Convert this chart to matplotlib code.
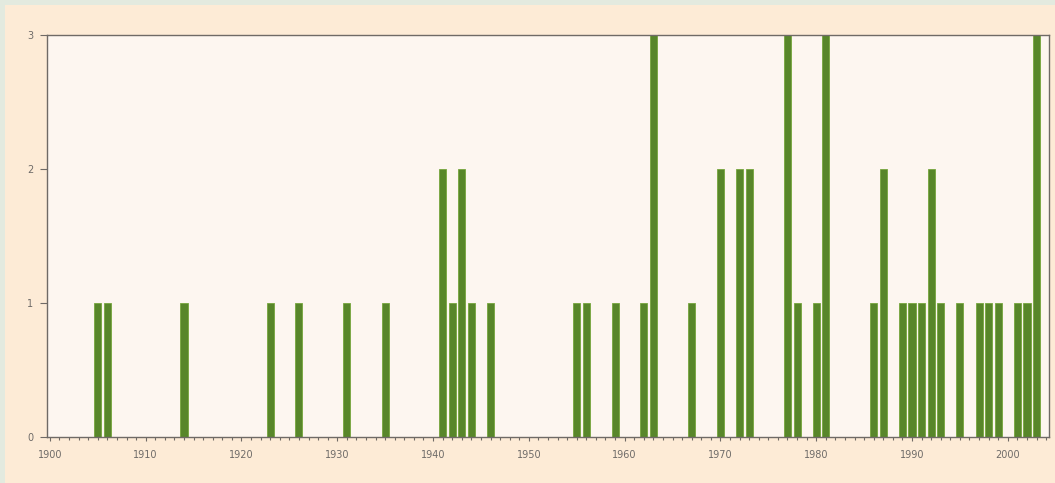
import numpy as np
import matplotlib
matplotlib.use('Agg')
import matplotlib.pyplot as plt
from matplotlib.ticker import MultipleLocator

# events per year
years = [1905, 1906, 1914, 1923, 1926, 1931, 1935, 1941, 1942, 1943, 1944, 1946,
         1955, 1956, 1959, 1962, 1963, 1967, 1970, 1972, 1973, 1977, 1978, 1980,
         1981, 1986, 1987, 1989, 1990, 1991, 1992, 1993, 1995, 1997, 1998, 1999,
         2001, 2002, 2003]
counts = [1, 1, 1, 1, 1, 1, 1, 2, 1, 2, 1, 1,
          1, 1, 1, 1, 3, 1, 2, 2, 2, 3, 1, 1,
          3, 1, 2, 1, 1, 1, 2, 1, 1, 1, 1, 1,
          1, 1, 3]
xticks = [1900, 1910, 1920, 1930, 1940, 1950, 1960, 1970, 1980, 1990, 2000]
yticks = [0, 1, 2, 3]

W, H = 1055, 483
fig = plt.figure(figsize=(W/100., H/100.), dpi=100)
fig.patch.set_facecolor('#e3eadf')

# peach panel behind the plot
bg = fig.add_axes([5./W, 0, 1-5./W, 1-5./H], zorder=-1)
bg.set_facecolor('#fdebd6')
bg.set_xticks([]); bg.set_yticks([])
for s in bg.spines.values():
    s.set_visible(False)

ax = fig.add_axes([47./W, 1-437./H, (1049.-47.)/W, (437.-35.)/H], zorder=1)
ax.set_facecolor('#fdf6f0')
ax.bar(years, counts, width=0.74, color='#58862a', edgecolor='#76a63c', linewidth=0.6, zorder=2)

ax.set_xlim(1899.7, 2004.3)
ax.set_ylim(0, 3)
ax.set_xticks(xticks)
ax.set_yticks(yticks)
ax.xaxis.set_minor_locator(MultipleLocator(1))
for s in ax.spines.values():
    s.set_color('#6f6a66')
    s.set_linewidth(1.0)
ax.tick_params(axis='x', which='major', length=3, width=0.8, color='#6f6a66',
               labelsize=7, labelcolor='#6e6b68', pad=6)
ax.tick_params(axis='x', which='minor', length=2.5, width=0.8, color='#6f6a66')
ax.tick_params(axis='y', length=5, width=0.8, color='#6f6a66',
               labelsize=7, labelcolor='#6e6b68', pad=5)

plt.savefig('out.png', dpi=100, facecolor=fig.get_facecolor())
